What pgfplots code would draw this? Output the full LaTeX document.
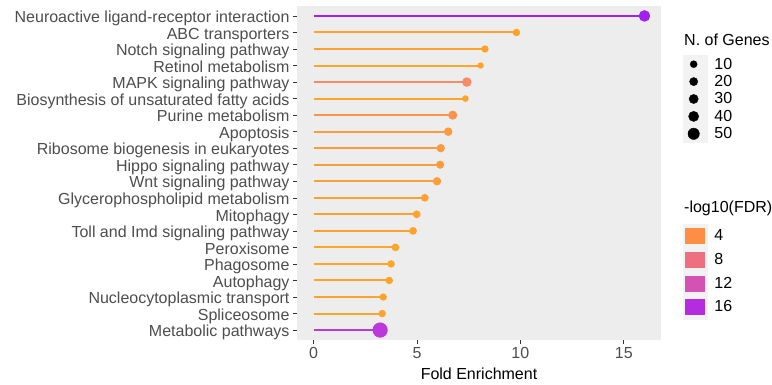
\documentclass[border=0pt]{standalone}
\usepackage{pgfplots}
\pgfplotsset{compat=1.18}
\usepackage{fontspec}
\setmainfont{Liberation Sans}
\newcommand{\fs}{\fontsize{16bp}{19bp}\selectfont}
\definecolor{panelbg}{HTML}{EDEDED}
\definecolor{keybg}{HTML}{F2F2F2}
\definecolor{labc}{HTML}{4D4D4D}
\definecolor{tickc}{HTML}{333333}
\definecolor{cA}{HTML}{A020F0}
\definecolor{cB}{HTML}{FFA32B}
\definecolor{cC}{HTML}{FFA22C}
\definecolor{cD}{HTML}{FFA52A}
\definecolor{cE}{HTML}{F98A67}
\definecolor{cF}{HTML}{FFA428}
\definecolor{cG}{HTML}{FF9448}
\definecolor{cH}{HTML}{FF9A3E}
\definecolor{cI}{HTML}{FF9B3C}
\definecolor{cJ}{HTML}{FF9C3A}
\definecolor{cK}{HTML}{FF9E36}
\definecolor{cL}{HTML}{FFA032}
\definecolor{cM}{HTML}{FFA22E}
\definecolor{cN}{HTML}{FFA22E}
\definecolor{cO}{HTML}{FFA52A}
\definecolor{cP}{HTML}{FFA52A}
\definecolor{cQ}{HTML}{FFA42B}
\definecolor{cR}{HTML}{FFA42B}
\definecolor{cS}{HTML}{FFA42B}
\definecolor{cT}{HTML}{BC38DC}
\definecolor{lA}{HTML}{FF8E45}
\definecolor{lB}{HTML}{EE6F80}
\definecolor{lC}{HTML}{D352B4}
\definecolor{lD}{HTML}{B42BE0}
\pgfplotsset{
  lolli/.style n args={2}{color=#1, line width=2bp, mark=*, mark indices={2},
     mark size=#2, mark options={draw=none, fill=#1}},
  sizekey/.style={legend image code/.code={
     \fill[keybg] (0bp,-8.5bp) rectangle (24bp,8.5bp);
     \fill[black] (10.5bp,0bp) circle (#1);}},
  colkey/.style={legend image code/.code={
     \fill[keybg] (0bp,-11.65bp) rectangle (24bp,11.65bp);
     \fill[#1] (2bp,-7.5bp) rectangle (21bp,7.5bp);}},
}
\begin{document}
\begin{tikzpicture}
\useasboundingbox (-297bp,-45bp) rectangle (475bp,340bp);
\begin{axis}[
  scale only axis, width=364bp, height=334bp,
  xmin=-0.8, xmax=16.8, ymin=0.4, ymax=20.6,
  axis background/.style={fill=panelbg},
  axis line style={draw=none},
  tick pos=left, tick align=outside,
  major tick length=4bp,
  tick style={draw=tickc, line width=0.6bp},
  xtick={0,5,10,15}, ytick={1,...,20},
  yticklabels={Metabolic pathways, Spliceosome, Nucleocytoplasmic transport,
    Autophagy, Phagosome, Peroxisome, Toll and Imd signaling pathway, Mitophagy,
    Glycerophospholipid metabolism, Wnt signaling pathway, Hippo signaling pathway,
    Ribosome biogenesis in eukaryotes, Apoptosis, Purine metabolism,
    Biosynthesis of unsaturated fatty acids, MAPK signaling pathway,
    Retinol metabolism, Notch signaling pathway, ABC transporters,
    Neuroactive ligand-receptor interaction},
  ticklabel style={font=\fs, text=labc},
  yticklabel style={anchor=base east, yshift=-6.7bp},
  /pgf/number format/assume math mode=true,
  xlabel={Fold Enrichment},
  every axis x label/.style={at={(axis description cs:0.5,0)}, anchor=base, yshift=-39bp, font=\fs},
  clip=false,
  legend style={at={(rel axis cs:1.0604,0.8518)}, anchor=north west, draw=none, fill=none,
    inner sep=0pt, outer sep=0pt, row sep=0pt, column sep=7bp,
    nodes={inner sep=0pt, outer sep=0pt, minimum height=17bp, font=\fs}},
  legend cell align=left,
]
\addlegendimage{sizekey=3.5bp}\addlegendentry{10}
\addlegendimage{sizekey=4.1bp}\addlegendentry{20}
\addlegendimage{sizekey=4.6bp}\addlegendentry{30}
\addlegendimage{sizekey=5.1bp}\addlegendentry{40}
\addlegendimage{sizekey=5.7bp}\addlegendentry{50}
\addplot[lolli={cA}{4.7bp}] coordinates {(0,20) (16.0,20)};
\addplot[lolli={cB}{2.7bp}] coordinates {(0,19) (9.81,19)};
\addplot[lolli={cC}{2.6bp}] coordinates {(0,18) (8.29,18)};
\addplot[lolli={cD}{2.1bp}] coordinates {(0,17) (8.08,17)};
\addplot[lolli={cE}{3.7bp}] coordinates {(0,16) (7.41,16)};
\addplot[lolli={cF}{2.3bp}] coordinates {(0,15) (7.34,15)};
\addplot[lolli={cG}{3.5bp}] coordinates {(0,14) (6.73,14)};
\addplot[lolli={cH}{3.2bp}] coordinates {(0,13) (6.51,13)};
\addplot[lolli={cI}{3.1bp}] coordinates {(0,12) (6.15,12)};
\addplot[lolli={cJ}{3.0bp}] coordinates {(0,11) (6.12,11)};
\addplot[lolli={cK}{3.1bp}] coordinates {(0,10) (5.97,10)};
\addplot[lolli={cL}{2.8bp}] coordinates {(0,9) (5.38,9)};
\addplot[lolli={cM}{2.8bp}] coordinates {(0,8) (4.99,8)};
\addplot[lolli={cN}{2.8bp}] coordinates {(0,7) (4.81,7)};
\addplot[lolli={cO}{2.8bp}] coordinates {(0,6) (3.96,6)};
\addplot[lolli={cP}{2.7bp}] coordinates {(0,5) (3.75,5)};
\addplot[lolli={cQ}{2.7bp}] coordinates {(0,4) (3.66,4)};
\addplot[lolli={cR}{2.6bp}] coordinates {(0,3) (3.37,3)};
\addplot[lolli={cS}{2.7bp}] coordinates {(0,2) (3.32,2)};
\addplot[lolli={cT}{6.6bp}] coordinates {(0,1) (3.22,1)};
\node[anchor=base west, inner sep=0pt, font=\fs] at (rel axis cs:1.0632,0.8811) {N. of Genes};
\end{axis}
\begin{axis}[
  scale only axis, width=364bp, height=334bp,
  xmin=-0.8, xmax=16.8, ymin=0.4, ymax=20.6,
  hide axis, clip=false,
  legend style={at={(rel axis cs:1.0604,0.3469)}, anchor=north west, draw=none, fill=none,
    inner sep=0pt, outer sep=0pt, row sep=0pt, column sep=7bp,
    nodes={inner sep=0pt, outer sep=0pt, minimum height=23.3bp, font=\fs}},
  legend cell align=left,
]
\addlegendimage{colkey=lA}\addlegendentry{4}
\addlegendimage{colkey=lB}\addlegendentry{8}
\addlegendimage{colkey=lC}\addlegendentry{12}
\addlegendimage{colkey=lD}\addlegendentry{16}
\node[anchor=base west, inner sep=0pt, font=\fs] at (rel axis cs:1.0632,0.3811) {-log10(FDR)};
\end{axis}
\end{tikzpicture}
\end{document}
